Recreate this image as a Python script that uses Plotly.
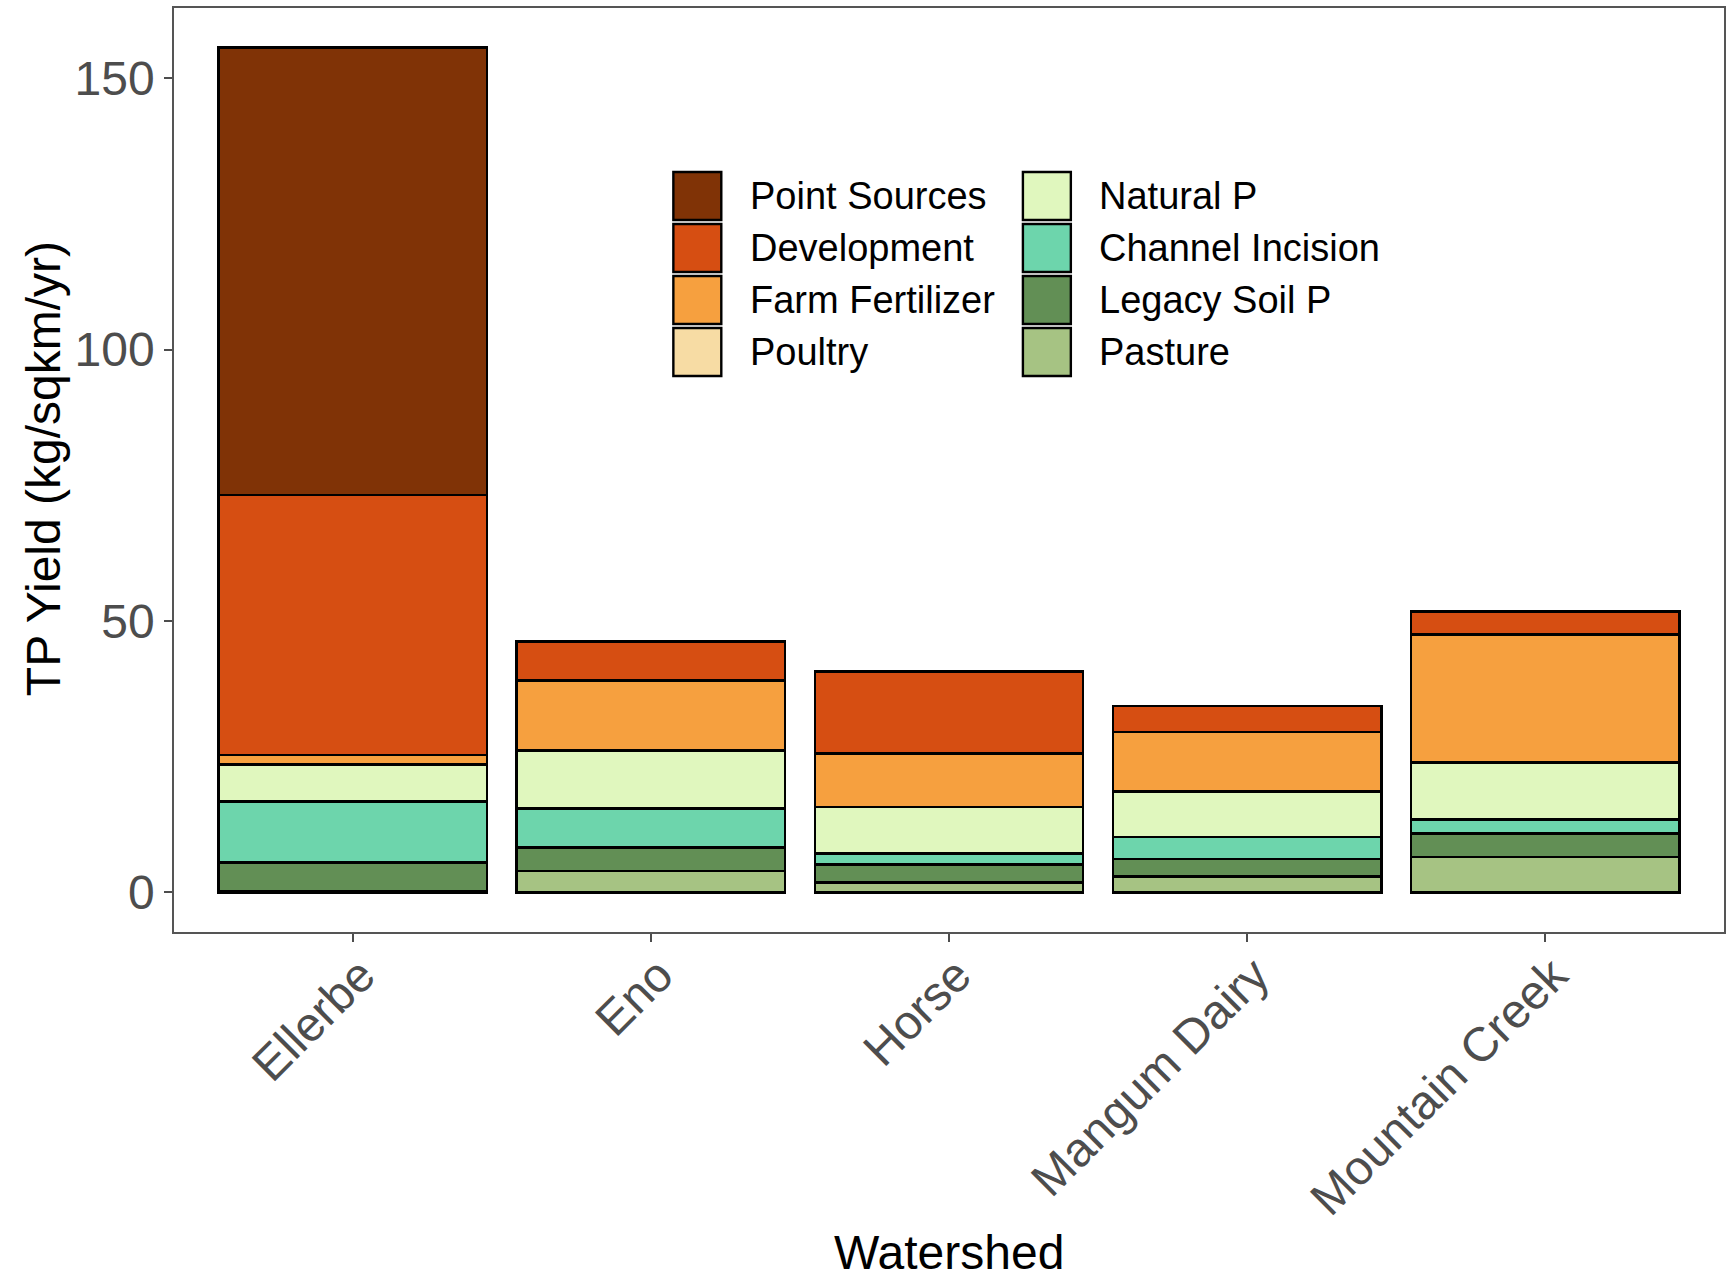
import plotly.graph_objects as go

# Watersheds on the x axis
watersheds = ["Ellerbe", "Eno", "Horse", "Mangum Dairy", "Mountain Creek"]

# TP yield by source (kg/sqkm/yr)
point_sources = [82.4, 0.0, 0.0, 0.0, 0.0]
development = [47.9, 7.2, 15.1, 4.8, 4.2]
farm_fertilizer = [1.7, 12.9, 9.9, 10.9, 23.6]
poultry = [0.0, 0.0, 0.0, 0.0, 0.0]
natural_p = [6.9, 10.7, 8.5, 8.4, 10.5]
channel_incision = [11.2, 7.2, 2.1, 4.1, 2.6]
legacy_soil_p = [5.3, 4.3, 3.3, 3.2, 4.3]
pasture = [0.2, 3.9, 1.8, 2.9, 6.5]

source_names = ["Point Sources", "Development", "Farm Fertilizer", "Poultry",
                "Natural P", "Channel Incision", "Legacy Soil P", "Pasture"]
source_values = [point_sources, development, farm_fertilizer, poultry,
                 natural_p, channel_incision, legacy_soil_p, pasture]
source_colors = ["#803306", "#d64e12", "#f6a03f", "#f7dca4",
                 "#e0f7be", "#6dd5ac", "#628f55", "#a6c383"]

FONT = "Liberation Sans, Arial, sans-serif"
W, H = 1729, 1283
ML, MR, MT, MB = 174, 3, 8, 351

fig = go.Figure()

# ggplot-style stacking: first source sits on top, so add traces bottom-up
for name, vals, col in reversed(list(zip(source_names, source_values, source_colors))):
    fig.add_trace(go.Bar(
        x=watersheds, y=vals, name=name,
        marker=dict(color=col, line=dict(color="black", width=2.6)),
        width=0.9, showlegend=False,
    ))

totals = [sum(v) for v in zip(*source_values)]
ymax = max(totals)
pad = 0.047 * ymax

fig.update_layout(
    width=W, height=H,
    margin=dict(l=ML, r=MR, t=MT, b=MB),
    barmode="stack",
    plot_bgcolor="white", paper_bgcolor="white",
    font=dict(family=FONT, size=48, color="#4d4d4d"),
)
fig.update_xaxes(
    range=[-0.6, len(watersheds) - 0.4],
    showline=True, mirror=True, linecolor="#555555", linewidth=1.5,
    ticks="outside", ticklen=8, tickwidth=2, tickcolor="#4d4d4d",
    tickangle=-45, tickfont=dict(size=48, color="#4d4d4d"),
    ticklabelstandoff=-14, ticklabelshift=8,
    showgrid=False, zeroline=False,
)
fig.update_yaxes(
    range=[-pad, ymax + pad],
    tickvals=[0, 50, 100, 150],
    showline=True, mirror=True, linecolor="#555555", linewidth=1.5,
    ticks="outside", ticklen=8, tickwidth=2, tickcolor="#4d4d4d",
    tickfont=dict(size=48, color="#4d4d4d"),
    showgrid=False, zeroline=False,
)

pw = W - ML - MR
ph = H - MT - MB


def px_x(px):
    return (px - ML) / pw


def px_y(py):
    return (H - MB - py) / ph


shapes = []
annotations = []

# Axis titles
annotations.append(dict(
    text="Watershed", xref="paper", yref="paper",
    x=px_x(950), y=px_y(1252), xanchor="center", yanchor="middle",
    showarrow=False, font=dict(family=FONT, size=48, color="black"),
))
annotations.append(dict(
    text="TP Yield (kg/sqkm/yr)", xref="paper", yref="paper",
    x=px_x(44), y=px_y(469), xanchor="center", yanchor="middle",
    textangle=-90, showarrow=False,
    font=dict(family=FONT, size=48, color="black"),
))

# Two-column legend inside the panel
key = 48
col_key_x = [674, 1024]
col_text_x = [749, 1098]
row_cy = [196, 248, 300, 352]
for i, (name, col) in enumerate(zip(source_names, source_colors)):
    c, r = divmod(i, 4)
    x0 = col_key_x[c]
    cy = row_cy[r]
    shapes.append(dict(
        type="rect", xref="paper", yref="paper",
        x0=px_x(x0), x1=px_x(x0 + key),
        y0=px_y(cy + key / 2), y1=px_y(cy - key / 2),
        fillcolor=col, line=dict(color="black", width=2.4),
    ))
    annotations.append(dict(
        text=name, xref="paper", yref="paper",
        x=px_x(col_text_x[c]), y=px_y(cy), xanchor="left", yanchor="middle",
        showarrow=False, font=dict(family=FONT, size=38, color="black"),
    ))

fig.update_layout(shapes=shapes, annotations=annotations)

fig.write_html("out.html")
